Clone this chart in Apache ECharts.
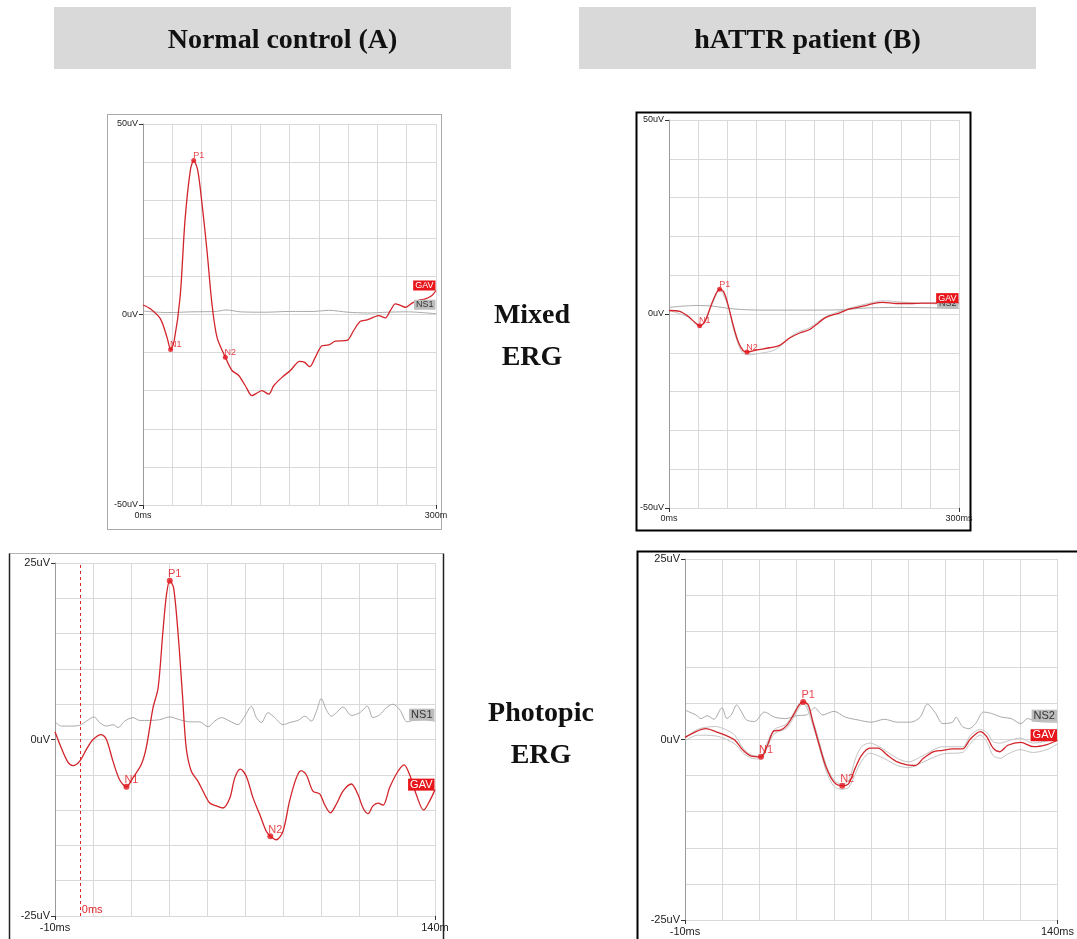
<!DOCTYPE html>
<html><head><meta charset="utf-8">
<script src="https://cdn.jsdelivr.net/npm/echarts@6/dist/echarts.min.js"></script>
<style>html,body{margin:0;padding:0;background:#fff}#c{width:1077px;height:939px}</style>
</head><body><div id="c"></div>
<script>
// ---------- text ----------
const headers = ['Normal control (A)', 'hATTR patient (B)'];
const rowLabels = [['Mixed', 'ERG'], ['Photopic', 'ERG']];

// ---------- Mixed ERG, normal control (A) ----------
const mixCtrlT   = [0,7.5,17.7,24.6,28.3,32,38,43,48.5,51.9,56,60.4,65.5,70.6,75.8,84.3,91.1,98,104.8,111.6,116.7,121.8,128.7,133.8,142.3,150.9,160.4,165.2,170.6,176.5,183.3,190.1,196.9,208.9,215.7,222.5,229.4,236.2,241.3,248.1,253.2,258.4,263.5,268.6,275.4,282.3,289.1,295.9,300];
const mixCtrlGAV = [2.5,1.5,-1.1,-6,-9.2,-6.8,4.6,24.7,37.9,40.4,37.9,29.1,16.8,2.8,-6,-11.2,-14.7,-16,-18.7,-21.3,-20.6,-20,-20.9,-18.7,-16.5,-14.7,-12.3,-12.5,-13.7,-11.2,-8.2,-8,-7,-6.8,-4.2,-1.8,-1.4,-0.7,-0.3,-0.9,1,2.8,2.4,1.9,3,3.7,4.1,5,6.3];
const mixCtrlNST = [0,25,50,75,85,100,125,150,175,190,210,230,250,270,300];
const mixCtrlNS  = [0.9,0.5,0.7,0.8,1.2,0.7,0.6,0.8,0.8,1.1,0.6,0.4,0.6,0.7,0.2];
const mixCtrlPeakNames = ['N1','P1','N2'];
const mixCtrlPeakT = [28.3,51.9,84.3];
const mixCtrlPeakV = [-9.2,40.4,-11.2];

// ---------- Mixed ERG, hATTR patient (B) ----------
const mixPatT   = [0,11,19.7,26.6,31.7,36.9,43.8,49,52.4,56.6,61,66.2,71.4,76.6,80.7,90.3,104,114.5,124.8,135.2,145.5,152.4,162.8,176.6,186.9,200.7,211,221.4,235.2,249,262.8,276.6,300];
const mixPatGAV = [0.9,0.7,-0.6,-2.1,-3,-2.1,2.4,5.4,6.4,5.7,2.4,-2.7,-7,-9.4,-9.8,-9.3,-8.7,-8.1,-6.2,-4.9,-4,-2.7,-0.8,0.3,1.3,2,2.7,3,2.7,2.7,2.8,2.8,2.8];
const mixPatNST = [0,28,46,63,80,97,140,180,200,235,270,300];
const mixPatNS  = [1.7,2.2,2,1.4,1.1,1,1,1.1,1.5,1.7,1.6,1.4];
const mixPatRepT = [0,20,31.7,44,52.4,61,66,72,77,82,95,110,125,135,145,163,187,211,221,250,300];
const mixPatRep  = [0.9,-0.8,-3.3,2.2,6.2,2.2,-3.2,-8,-10.2,-10.5,-10.1,-9.2,-6,-4.5,-3.6,-0.6,1.5,3,3.4,2.9,2.4];
const mixPatPeakNames = ['N1','P1','N2'];
const mixPatPeakT = [31.7,52.4,80.7];
const mixPatPeakV = [-3,6.4,-9.8];

// ---------- Photopic ERG, normal control (A) ----------
const phoCtrlT   = [-10,-7.5,-4.9,-2.9,-0.3,2.4,5,8.3,10.3,12.9,15.5,18.2,20.8,24.1,26,28.7,30.7,32.6,34,35.3,36.8,38.6,40.3,41.8,43.8,46.4,48.4,51.1,53.7,56.3,59,61,63.2,65.5,68.2,70.8,73.4,75,77.4,80,82.6,85.3,87.2,89.2,91.8,94.5,96.4,98.7,101,103.7,107,109.6,111.6,113.6,115.5,117.5,119.5,122.1,125.4,127.8,130,132.6,135.5,137.9,140];
const phoCtrlGAV = [1.1,-1.2,-3.2,-3.7,-3.1,-1.4,0,0.7,0,-3.1,-5.7,-6.7,-5.4,-3.5,-1.2,4.5,7.3,15.3,20.5,22.5,21.5,14.9,6.4,-1.2,-4.5,-5.9,-7.3,-9,-9.4,-9.7,-8.3,-5.4,-4.2,-5.2,-8.3,-10.6,-13,-13.7,-14.2,-13,-8.7,-5.4,-4.4,-5,-7.3,-7.7,-9.2,-10.4,-9.2,-7.3,-6.3,-7.8,-9.7,-10.5,-9.4,-9,-9.3,-6.8,-4.5,-3.6,-5,-7.8,-10,-8.7,-7.1];
const phoCtrlNST = [-10,-7.5,-4.2,-0.3,2.4,5.4,7.6,10.3,12.9,14.9,17.5,20.8,23.4,27.4,31.3,35.3,39.2,43.2,47.1,50.4,53,55.7,59,62.2,64.9,67.5,69.5,71.4,74.1,76.7,80,82.6,85.9,88.6,91.2,93.2,95.1,97.1,99.1,101.1,103.7,107,110.3,113.3,115.5,118.2,120.8,123.4,126.1,129,131.4,135.3,140];
const phoCtrlNS  = [2.5,1.9,1.9,2,2.6,3.2,2.4,1.9,2.1,1.7,2.6,3.1,2.7,2.7,2.8,3.2,2.8,2.5,2.5,1.8,2.6,3.1,2.6,2.1,3.3,4.7,3.1,2.4,3.8,3.1,2.1,2.4,2.7,3.3,2.6,4,5.8,4.2,3.3,3.8,4.6,3.4,3.8,4.7,3.1,3.5,4.5,5,4.2,2.5,2.7,2.8,2.6];
const phoCtrlPeakNames = ['N1','P1','N2'];
const phoCtrlPeakT = [18.2,35.3,75];
const phoCtrlPeakV = [-6.7,22.5,-13.7];
const phoStimulusT = 0;

// ---------- Photopic ERG, hATTR patient (B) ----------
const phoPatT   = [-10,-5.6,-1.6,2.3,6.2,10.1,13.4,16.7,20.6,23.2,25.8,28.4,31.1,33.7,36,37.6,39.6,41.5,44.1,46.8,50,53.3,55.9,58.5,61.1,64.4,67.7,71.6,75.5,79.4,82.7,86,89.9,93.8,97.8,101.7,105,108.9,111.5,114.1,116.7,120,125.2,130.4,135.7,140];
const phoPatGAV = [0.3,1.1,1.5,1.1,0.6,-0.1,-1.5,-2.3,-2.4,-0.8,1.2,1.3,2,3.4,4.8,5.2,4.8,2.4,-0.8,-3.8,-5.9,-6.4,-6.1,-4,-2.2,-1.2,-1.2,-2.2,-3.1,-3.5,-3.6,-2.6,-1.7,-1.5,-1.3,-1.3,0.1,1.1,0.4,-1.2,-1.7,-0.8,-0.4,-1,-0.7,-0.1];
const phoPatNST = [-10,-8.2,-5.6,-3.6,-1,1.6,4.9,6.9,8.8,10.8,12.8,14.8,18,22,26,30.5,35,38.9,42.2,45.5,50,54.6,59.8,65,70.3,75.5,80.8,84.7,87.6,90.6,93.9,97.8,99.1,101.7,104.3,107,110.2,113.5,117.4,121.3,125.3,127.9,131.8,140];
const phoPatNS  = [4.1,3.8,3.4,2.9,3.3,2.8,4.4,2.9,3.5,4.8,3.8,2.7,2.5,3.8,3.1,2.9,3.3,3.4,4.4,3.4,3.9,3.1,2.7,2.4,2.8,2.4,2.4,3.1,4.9,3.8,2.2,2.4,3.1,1.8,1.5,2.2,3.8,3.6,3.1,2.9,2.2,2.9,2.5,2.4];
const phoPatRep1T = [-10,-5,2.3,6.2,10,13.4,17,20.6,23,26,31,36,37.6,41.5,46.8,50,53.3,56,58.5,61.1,64.4,67.7,75.5,80,86,93.8,101.7,105,108.9,112,114,117,120,125,130,135.7,140];
const phoPatRep1  = [0.1,1.4,1.8,1.4,0.6,-1.2,-2.2,-2.3,-0.5,1.4,2.2,5,5.3,2.6,-3.5,-5.6,-6.2,-5.6,-2.8,-1,-0.5,-0.9,-2.6,-3.1,-2.2,-1,-1,0.6,1.4,0.8,-0.3,-0.5,-0.2,0.2,-0.5,-0.2,0.2];
const phoPatRep2T = [-10,-5,2.3,10,13.4,17,20.6,23,26,31,36,37.6,41.5,46.8,50,53.3,56,58.5,61.1,64.4,70,75.5,80,86,93.8,101.7,105,108.9,112,114,117,120,125,130,135.7,140];
const phoPatRep2  = [-0.2,0.6,0.5,-0.6,-1.9,-2.6,-2.7,-1.2,0.8,1.6,4.4,5,2,-4.3,-6.5,-6.9,-6.6,-4.8,-3,-1.9,-2.6,-3.6,-3.9,-3.1,-2,-1.8,-0.5,0.6,-0.6,-2.2,-2.6,-2,-1.4,-1.8,-1.4,-0.6];
const phoPatPeakNames = ['N1','P1','N2'];
const phoPatPeakT = [20.6,37.6,53.3];
const phoPatPeakV = [-2.4,5.2,-6.4];

// ---------- axis ranges & tick labels ----------
const mixedX = [0, 300, 30], mixedY = [-50, 50, 10];
const photoX = [-10, 140, 15], photoY = [-25, 25, 5];
const mixedXLabelsA = {0: '0ms', 300: '300m'};
const mixedXLabelsB = {0: '0ms', 300: '300ms'};
const photoXLabelsA = {'-10': '-10ms', 140: '140m'};
const photoXLabelsB = {'-10': '-10ms', 140: '140ms'};
const yUnit = 'uV';

// ---------- layout (styles, positions) ----------
const RED = '#d2242a', GRAY = '#a9a9a9', REP = '#c4c4c4', GRID = '#d9d9d9';
const FONT = 'Liberation Sans, Arial, sans-serif';
const zip = (t, v) => t.map((x, i) => [x, v[i]]);

const panels = [
  {grid:{left:143, top:124, width:293, height:381}, xr:mixedX, yr:mixedY, xl:mixedXLabelsA, fs:9, ls:9,
   gav:[mixCtrlT, mixCtrlGAV], ns:[mixCtrlNST, mixCtrlNS], nsName:'NS1', reps:[],
   peaks:[mixCtrlPeakNames, mixCtrlPeakT, mixCtrlPeakV], gavOff:-5, nsOff:-9, dot:5, stim:false},
  {grid:{left:669, top:120, width:290, height:388}, xr:mixedX, yr:mixedY, xl:mixedXLabelsB, fs:9, ls:9,
   gav:[mixPatT, mixPatGAV], ns:[mixPatNST, mixPatNS], nsName:'NS2', reps:[[mixPatRepT, mixPatRep]],
   peaks:[mixPatPeakNames, mixPatPeakT, mixPatPeakV], gavOff:-5, nsOff:-5, dot:5, stim:false},
  {grid:{left:55, top:563, width:380, height:353}, xr:photoX, yr:photoY, xl:photoXLabelsA, fs:11, ls:11,
   gav:[phoCtrlT, phoCtrlGAV], ns:[phoCtrlNST, phoCtrlNS], nsName:'NS1', reps:[],
   peaks:[phoCtrlPeakNames, phoCtrlPeakT, phoCtrlPeakV], gavOff:-5, nsOff:-6.5, dot:6, stim:true},
  {grid:{left:685, top:559, width:383, height:361}, xr:photoX, yr:photoY, xl:photoXLabelsB, fs:11, ls:11,
   gav:[phoPatT, phoPatGAV], ns:[phoPatNST, phoPatNS], nsName:'NS2', reps:[[phoPatRep1T, phoPatRep1],[phoPatRep2T, phoPatRep2]],
   peaks:[phoPatPeakNames, phoPatPeakT, phoPatPeakV], gavOff:-5, nsOff:-6.5, dot:6, stim:false}
];

const grid = [], xAxis = [], yAxis = [], series = [];
panels.forEach((p, i) => {
  grid.push(Object.assign({containLabel:false}, p.grid));
  const font = {fontFamily:FONT, fontSize:p.fs, color:'#222'};
  // gridline axes
  xAxis.push({gridIndex:i, type:'value', position:'top', min:p.xr[0], max:p.xr[1], interval:p.xr[2],
    axisLine:{show:false, onZero:false}, axisTick:{show:false}, axisLabel:{show:false},
    splitLine:{show:true, lineStyle:{color:GRID, width:1}}});
  yAxis.push({gridIndex:i, type:'value', position:'right', min:p.yr[0], max:p.yr[1], interval:p.yr[2],
    axisLine:{show:false, onZero:false}, axisTick:{show:false}, axisLabel:{show:false},
    splitLine:{show:true, lineStyle:{color:GRID, width:1}}});
  // labelled axes
  xAxis.push({gridIndex:i, type:'value', position:'bottom', min:p.xr[0], max:p.xr[1], interval:p.xr[1]-p.xr[0],
    axisLine:{show:false, onZero:false},
    axisTick:{show:true, length:4, lineStyle:{color:'#333'}, customValues:[p.xr[0], p.xr[1]]},
    axisLabel:Object.assign({margin:6, customValues:[p.xr[0], p.xr[1]], formatter:v => p.xl[v] || ''}, font),
    splitLine:{show:false}});
  yAxis.push({gridIndex:i, type:'value', position:'left', min:p.yr[0], max:p.yr[1], interval:p.yr[1],
    axisLine:{show:true, onZero:false, lineStyle:{color:'#9a9a9a', width:1}},
    axisTick:{show:true, length:4, lineStyle:{color:'#333'}, customValues:[p.yr[0], 0, p.yr[1]]},
    axisLabel:Object.assign({margin:5, customValues:[p.yr[0], 0, p.yr[1]], formatter:v => v + yUnit}, font),
    splitLine:{show:false}});
  const xi = 2*i+1, yi = 2*i+1;
  const tagLabel = (txt, bg, fg, off) => ({show:true, position:'left', distance:0, offset:[0, off], formatter:txt,
    backgroundColor:bg, color:fg, padding:[1,2,0,2], fontSize:p.ls, fontFamily:FONT});
  // NS trace
  const nsT = p.ns[0], nsV = p.ns[1];
  series.push({type:'line', xAxisIndex:xi, yAxisIndex:yi, data:zip(nsT, nsV), showSymbol:false, smooth:0.3,
    lineStyle:{color:GRAY, width:1}, z:2, animation:false, silent:true,
    markPoint:{symbol:'rect', symbolSize:1, itemStyle:{color:'rgba(0,0,0,0)'}, animation:false,
      data:[{coord:[nsT[nsT.length-1], nsV[nsV.length-1]], label:tagLabel(p.nsName, '#bdbdbd', '#333', p.nsOff)}]}});
  // replicate traces
  p.reps.forEach(r => series.push({type:'line', xAxisIndex:xi, yAxisIndex:yi, data:zip(r[0], r[1]), showSymbol:false, smooth:0.3,
    lineStyle:{color:REP, width:1}, z:2, animation:false, silent:true}));
  // GAV trace
  const gT = p.gav[0], gV = p.gav[1];
  const mpData = [{coord:[gT[gT.length-1], gV[gV.length-1]], label:tagLabel('GAV', '#e8151b', '#fff', p.gavOff)}];
  const gav = {type:'line', xAxisIndex:xi, yAxisIndex:yi, data:zip(gT, gV), showSymbol:false, smooth:0.3,
    lineStyle:{color:RED, width:1.3}, z:4, animation:false, silent:true,
    markPoint:{symbol:'rect', symbolSize:1, itemStyle:{color:'rgba(0,0,0,0)'}, animation:false, data:mpData}};
  if (p.stim) {
    gav.markLine = {symbol:'none', silent:true, animation:false, label:{show:false},
      lineStyle:{color:'#e0262b', type:[3,3], width:1}, data:[{xAxis:phoStimulusT}]};
    mpData.push({coord:[phoStimulusT, p.yr[0]], label:{show:true, position:'right', distance:1, offset:[0,-6],
      formatter:'0ms', color:'#e0262b', fontSize:p.ls, fontFamily:FONT}});
  }
  series.push(gav);
  // peak markers
  const [pn, pt, pv] = p.peaks;
  series.push({type:'scatter', xAxisIndex:xi, yAxisIndex:yi, symbol:'circle', symbolSize:p.dot, z:5, animation:false, silent:true,
    itemStyle:{color:'#e3141b'},
    label:{show:true, position:'top', distance:0, offset:[5, 2], formatter:'{b}', color:'#e3141b', fontSize:p.ls, fontFamily:FONT},
    data:pn.map((n, k) => ({name:n, value:[pt[k], pv[k]]}))});
});

const serif = 'bold 28px "Liberation Serif", "Times New Roman", serif';
const txt = (x, y, s) => ({type:'text', x, y, style:{text:s, font:serif, fill:'#111', align:'center', verticalAlign:'middle'}});
const graphic = [
  {type:'rect', shape:{x:54, y:7, width:457, height:62}, style:{fill:'#d9d9d9'}, z:-1},
  {type:'rect', shape:{x:579, y:7, width:457, height:62}, style:{fill:'#d9d9d9'}, z:-1},
  txt(282.5, 41, headers[0]), txt(807.5, 41, headers[1]),
  txt(532, 316, rowLabels[0][0]), txt(532, 358, rowLabels[0][1]),
  txt(541, 714, rowLabels[1][0]), txt(541, 756, rowLabels[1][1]),
  // panel frames
  {type:'rect', shape:{x:107.5, y:114.5, width:334, height:415}, style:{fill:'none', stroke:'#555', lineWidth:1, lineDash:[1,1]}},
  {type:'rect', shape:{x:636.5, y:112.5, width:334, height:418}, style:{fill:'none', stroke:'#000', lineWidth:2}},
  {type:'line', shape:{x1:9.5, y1:553.5, x2:443.5, y2:553.5}, style:{stroke:'#666', lineWidth:1, lineDash:[1,1]}},
  {type:'line', shape:{x1:9.5, y1:553.5, x2:9.5, y2:945}, style:{stroke:'#222', lineWidth:1.5}},
  {type:'line', shape:{x1:443.5, y1:553.5, x2:443.5, y2:945}, style:{stroke:'#222', lineWidth:1.5}},
  {type:'rect', shape:{x:637.5, y:551.5, width:460, height:400}, style:{fill:'none', stroke:'#000', lineWidth:2}}
];

const chart = echarts.init(document.getElementById('c'), null, {renderer:'canvas'});
chart.setOption({animation:false, backgroundColor:'#fff', grid, xAxis, yAxis, series, graphic});
</script></body></html>
